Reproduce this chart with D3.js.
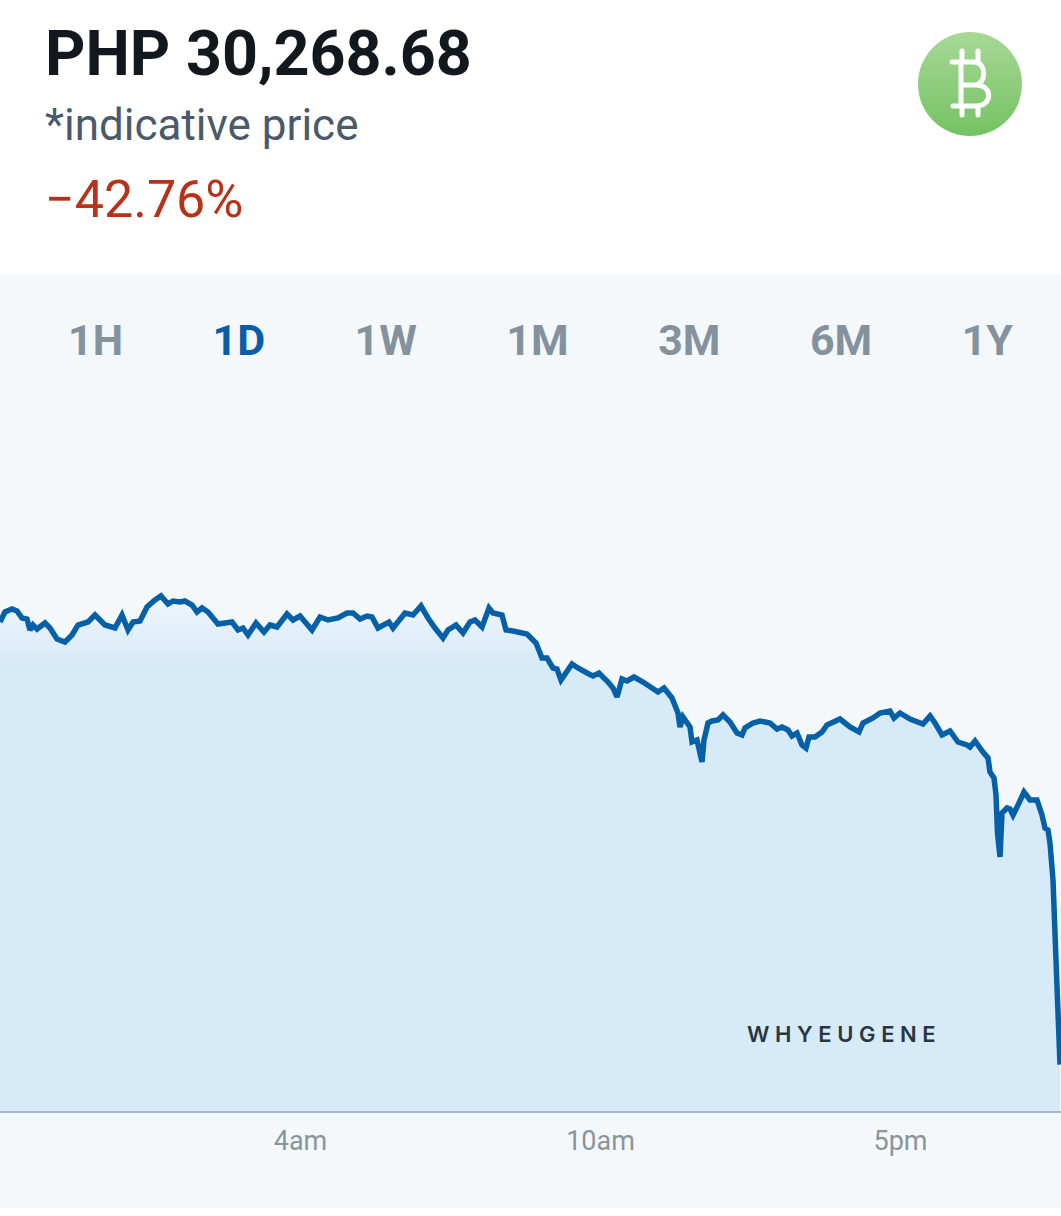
<!DOCTYPE html>
<html>

<head>
    <meta charset="utf-8">
    <title>PHP 30,268.68</title>
    <script src="https://d3js.org/d3.v7.min.js"></script>
    <style>
        html, body { margin: 0; padding: 0; background: #fff; }
        svg { display: block; font-family: Roboto, sans-serif; }
    </style>
</head>

<body>
    <svg width="1061" height="1216"></svg>
    <script>
        const priceLabel = "PHP 30,268.68";
        const noteLabel = "*indicative price";
        const changeLabel = "\u221242.76%";
        const ranges = ["1H", "1D", "1W", "1M", "3M", "6M", "1Y"];
        const activeRange = "1D";
        const tickSamples = [150, 300, 450];
        const tickLabels = ["4am", "10am", "5pm"];

        // sample number along the day
        const samples = [0, 2.5, 6, 8.5, 11, 13.5, 15, 16.5, 18.5, 22.5, 25, 28.5, 32.5, 36, 39, 44, 47.5, 52.5, 57.5, 61,
            64, 66.5, 70, 73.5, 77.5, 80.5, 84, 86.5, 90, 92.5, 96, 98.5, 101, 104, 109, 116, 119, 121.5, 124, 128,
            132, 135, 138.5, 143.5, 146.5, 150, 156, 160, 164, 169, 173.5, 176.5, 180, 183.5, 186, 189, 194.5, 196.5, 202.5, 206.5,
            210.5, 214, 217.5, 221.5, 224, 228, 231.5, 235, 237.5, 241, 244.5, 246.5, 251, 253, 256.5, 263.5, 268, 271, 273.5, 276.5,
            278.5, 280.5, 286, 289, 293.5, 296.5, 299.5, 304, 306.5, 308.5, 311, 313.5, 317, 321.5, 326, 329, 332, 336, 339, 340,
            341.5, 345, 346, 348.5, 351, 352, 354, 356, 359, 361.5, 365, 368.5, 371, 372.5, 376.5, 380, 385, 388.5, 391, 394,
            396, 398.5, 401, 403, 404.5, 407.5, 411, 413.5, 420, 425, 429.5, 431.5, 436.5, 440, 445, 447, 450, 455, 461.5, 465,
            467.5, 471, 475, 479, 483.5, 485, 487.5, 491.5, 494, 495, 497, 498, 498.75, 500, 501, 503.5, 505, 506.5, 509, 512,
            515, 518.5, 521, 522.5, 524, 525, 526.5, 528, 530];

        const prices = [52400, 52900, 53050, 52950, 52600, 52550, 52000, 52250, 52050, 52350, 52100, 51550, 51400, 51750, 52250, 52400, 52750, 52250, 52100, 52750,
            52000, 52400, 52450, 53150, 53500, 53700, 53300, 53450, 53400, 53450, 53250, 52900, 53100, 52900, 52300, 52400, 52000, 52100, 51750, 52350,
            51900, 52250, 52150, 52800, 52500, 52700, 52000, 52650, 52500, 52600, 52850, 52850, 52550, 52700, 52650, 52100, 52400, 52100, 52850, 52750,
            53200, 52600, 52100, 51600, 52000, 52250, 51850, 52400, 52500, 52150, 53100, 52850, 52750, 52000, 51950, 51800, 51350, 50600, 50600, 50100,
            50050, 49500, 50300, 50100, 49850, 49700, 49850, 49400, 49100, 48650, 49550, 49450, 49650, 49400, 49100, 48900, 49100, 48600, 47850, 47150,
            47650, 47150, 46400, 46500, 45400, 46500, 47350, 47450, 47500, 47750, 47400, 46850, 46750, 47100, 47350, 47450, 47350, 47050, 47150, 47000,
            46700, 46850, 46250, 46100, 46650, 46650, 46900, 47250, 47550, 47150, 46900, 47350, 47600, 47850, 47950, 47600, 47850, 47550, 47300, 47700,
            47350, 46750, 46950, 46400, 46250, 46150, 46450, 45900, 45600, 44900, 44600, 43750, 41850, 40650, 42850, 43100, 43050, 42750, 43250, 43900,
            43500, 43500, 42750, 42100, 42000, 41350, 39500, 35500, 30268.68];

        const series = samples.map((s, i) => ({ s: s, p: prices[i] }));

        const width = 1061;
        const height = 1216;
        const panelTop = 275;
        const panelBottom = 1208;
        const plotBottom = 1112;

        const svg = d3.select("svg");

        const x = d3.scaleLinear().domain([0, 530.5]).range([0, width]);
        const y = d3.scaleLinear().domain([28000, 53000]).range([1110, 610]);

        const defs = svg.append("defs");

        const areaGrad = defs.append("linearGradient")
            .attr("id", "areaFill")
            .attr("gradientUnits", "userSpaceOnUse")
            .attr("x1", 0).attr("y1", 595)
            .attr("x2", 0).attr("y2", 665);
        areaGrad.append("stop").attr("offset", "0").attr("stop-color", "#f0f6fb");
        areaGrad.append("stop").attr("offset", "1").attr("stop-color", "#d7eaf8");

        const iconGrad = defs.append("linearGradient")
            .attr("id", "iconFill")
            .attr("x1", 0).attr("y1", 0)
            .attr("x2", 0).attr("y2", 1);
        iconGrad.append("stop").attr("offset", "0").attr("stop-color", "#a8d895");
        iconGrad.append("stop").attr("offset", "1").attr("stop-color", "#74c263");

        svg.append("rect")
            .attr("x", 0).attr("y", panelTop)
            .attr("width", width).attr("height", panelBottom - panelTop)
            .attr("fill", "#f4f8fb");

        // header
        svg.append("text").attr("x", 45).attr("y", 75)
            .attr("font-size", 62.8).attr("font-weight", 700).attr("fill", "#12181d")
            .text(priceLabel);
        svg.append("text").attr("x", 45).attr("y", 140)
            .attr("font-size", 44).attr("fill", "#4a5a68")
            .text(noteLabel);
        svg.append("text").attr("x", 45).attr("y", 217)
            .attr("font-size", 52).attr("fill", "#b8321a")
            .text(changeLabel);

        // coin icon
        svg.append("circle").attr("cx", 970).attr("cy", 84).attr("r", 52).attr("fill", "url(#iconFill)");
        svg.append("path")
            .attr("d", "M952,62H974C987,62 987,85 974,85H961M961,62V106M961,85H976C993,85 993,106 976,106H953M962,51V62M978,51V62M962,106V115M978,106V115")
            .attr("fill", "none").attr("stroke", "#fff").attr("stroke-width", 5)
            .attr("stroke-linecap", "round").attr("stroke-linejoin", "round");

        // range tabs, spaced evenly by their own widths
        const tabs = svg.append("g").selectAll("text")
            .data(ranges)
            .join("text")
            .attr("y", 355)
            .attr("font-size", 43)
            .attr("font-weight", 700)
            .attr("fill", d => d === activeRange ? "#0a5ea8" : "#84929e")
            .text(d => d);
        const tabWidths = tabs.nodes().map(n => n.getComputedTextLength());
        const tabGap = (1013 - 68 - d3.sum(tabWidths)) / (ranges.length - 1);
        tabs.attr("x", (d, i) => 68 + d3.sum(tabWidths.slice(0, i)) + i * tabGap);

        // price area and line
        const area = d3.area()
            .x(d => x(d.s))
            .y0(plotBottom)
            .y1(d => y(d.p));
        const line = d3.line()
            .x(d => x(d.s))
            .y(d => y(d.p));

        svg.append("path")
            .datum(series)
            .attr("d", area)
            .attr("fill", "url(#areaFill)");

        svg.append("path")
            .datum(series)
            .attr("d", line)
            .attr("fill", "none")
            .attr("stroke", "#0560a8")
            .attr("stroke-width", 5.5)
            .attr("stroke-linejoin", "miter")
            .attr("stroke-miterlimit", 2.5);

        // x axis
        const axis = svg.append("g")
            .attr("transform", `translate(0,${plotBottom})`)
            .call(d3.axisBottom(x)
                .tickValues(tickSamples)
                .tickFormat((d, i) => tickLabels[i])
                .tickSize(0)
                .tickPadding(19));
        axis.select(".domain")
            .attr("d", `M0,0H${width}`)
            .attr("stroke", "#93a5b5")
            .attr("stroke-width", 1.5);
        axis.selectAll("text")
            .attr("font-family", "Roboto, sans-serif")
            .attr("font-size", 27)
            .attr("fill", "#8a949d");

        // watermark
        svg.append("text")
            .attr("x", 747).attr("y", 1042)
            .attr("font-family", "Inter, sans-serif")
            .attr("font-size", 22)
            .attr("font-weight", 600)
            .attr("letter-spacing", 5.6)
            .attr("fill", "#2a3640")
            .text("WHYEUGENE");
    </script>
</body>

</html>
